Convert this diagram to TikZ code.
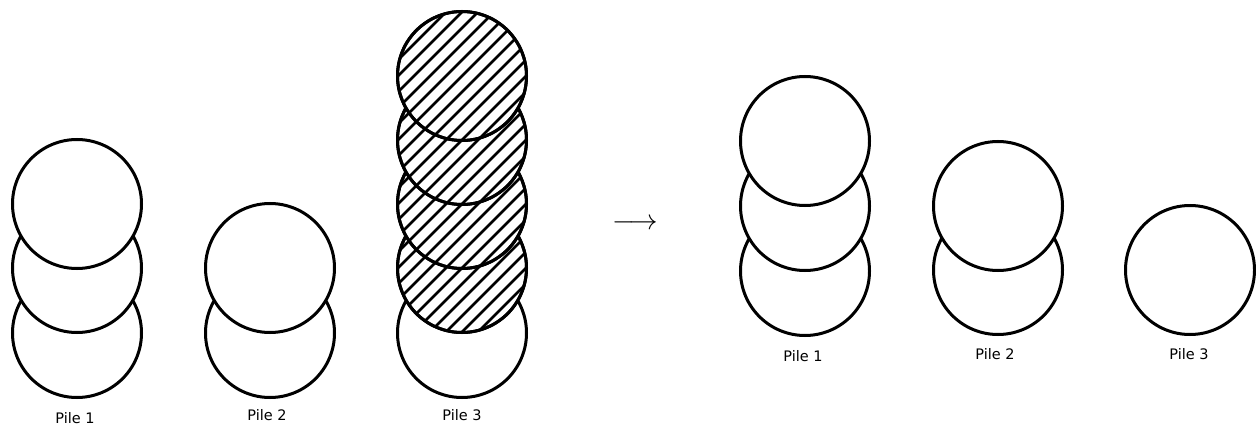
\documentclass[tikz,border=0pt]{standalone}
\usepackage{fontspec}
\setmainfont{DejaVu Sans}
\usepackage{graphicx}
\begin{document}
\begin{tikzpicture}[x=1pt,y=-1pt,
  coin/.style={circle,draw=black,line width=3pt,fill=white,minimum size=129pt,inner sep=0pt},
  hatchline/.style={line width=2.8pt,black},
  lbl/.style={font=\fontsize{14.5}{17}\selectfont,inner sep=0pt}]
\useasboundingbox (0,0) rectangle (1256,425);
% ---------- left: Pile 1
\node[coin] (a1) at (77,333) {};
\node[coin] (a2) at (77,268) {};
\node[coin] (a3) at (77,204) {};
\node[lbl] (la) at (75,418) {Pile 1};
% Pile 2
\node[coin] (b1) at (270,333) {};
\node[coin] (b2) at (270,268) {};
\node[lbl] (lb) at (267,415) {Pile 2};
% Pile 3
\node[coin] (c1) at (462,333) {};
\foreach \n/\y in {c2/268,c3/204,c4/140,c5/76}{
  \node[coin] (\n) at (462,\y) {};
  \begin{scope}
    \clip (\n.center) circle (64.5);
    \foreach \k in {-8,...,8}
      \draw[hatchline] ([xshift=\k*16pt-90pt,yshift=-90pt]\n.center) -- ++(180,-180);
  \end{scope}
  \node[circle,draw=black,line width=3pt,minimum size=129pt,inner sep=0pt] at (\n.center) {};
}
\node[lbl] (lc) at (462,415) {Pile 3};
% arrow
\node[inner sep=0pt] (arr) at (635,224) {\resizebox{46pt}{!}{$\longrightarrow$}};
% ---------- right: Pile 1
\node[coin] (d1) at (805,271) {};
\node[coin] (d2) at (805,206) {};
\node[coin] (d3) at (805,141) {};
\node[lbl] (ld) at (803,356) {Pile 1};
% Pile 2
\node[coin] (e1) at (998,270) {};
\node[coin] (e2) at (998,206) {};
\node[lbl] (le) at (995,354) {Pile 2};
% Pile 3
\node[coin] (f1) at (1190,270) {};
\node[lbl] (lf) at (1189,354) {Pile 3};
\end{tikzpicture}
\end{document}
